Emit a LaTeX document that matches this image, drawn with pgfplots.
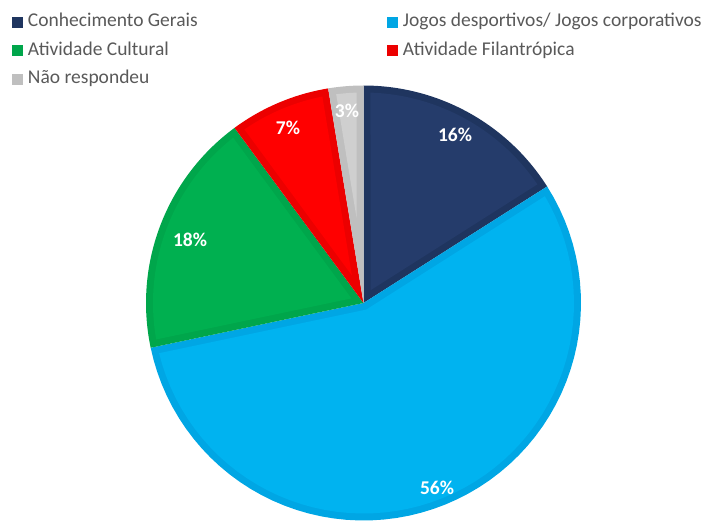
\documentclass[border=0pt]{standalone}
\usepackage{pgfplots}
\pgfplotsset{compat=1.18}
\usepackage{fontspec}
\setmainfont{Carlito}
\definecolor{navyO}{HTML}{1F355F}
\definecolor{navyI}{HTML}{253C6B}
\definecolor{blueO}{HTML}{00A6E4}
\definecolor{blueI}{HTML}{00B3F0}
\definecolor{greenO}{HTML}{00A64B}
\definecolor{greenI}{HTML}{00B050}
\definecolor{redO}{HTML}{EC0000}
\definecolor{redI}{HTML}{FF0000}
\definecolor{grayO}{HTML}{BFBFBF}
\definecolor{grayI}{HTML}{CFCFCF}
\definecolor{legtext}{HTML}{595959}
\newcommand\pieslice[5]{%
 \addplot[fill=#3, draw=none, samples at={0,...,61}]
   ({ifthenelse(x<60.5, \R*cos(#1+(#2-#1)*x/60), 0)},
    {ifthenelse(x<60.5, \R*sin(#1+(#2-#1)*x/60), 0)});
 \addlegendentry{#5}
 \pgfmathsetmacro\sh{(#1-#2)/2}
 \pgfmathsetmacro\sm{(#1+#2)/2}
 \pgfmathsetmacro\ss{\D/sin(\sh)}
 \pgfmathsetmacro\svx{\ss*cos(\sm)}
 \pgfmathsetmacro\svy{\ss*sin(\sm)}
 \pgfmathsetmacro\sRi{\R-\D}
 \pgfmathsetmacro\sdl{asin(\D/\sRi)}
 \pgfmathsetmacro\sbA{#1-\sdl}
 \pgfmathsetmacro\sbB{#2+\sdl}
 \addplot[fill=#4, draw=none, forget plot, samples at={0,...,61}]
   ({ifthenelse(x<60.5, \sRi*cos(\sbA+(\sbB-\sbA)*x/60), \svx)},
    {ifthenelse(x<60.5, \sRi*sin(\sbA+(\sbB-\sbA)*x/60), \svy)});
}
\begin{document}
\begin{tikzpicture}
% shares (percent)
\pgfmathsetmacro\vA{16.0}
\pgfmathsetmacro\vB{55.7}
\pgfmathsetmacro\vC{18.2}
\pgfmathsetmacro\vD{7.5}
\pgfmathsetmacro\vE{2.6}
\pgfmathsetmacro\R{217.5}
\pgfmathsetmacro\D{7}
\pgfmathsetmacro\aA{90}
\pgfmathsetmacro\aB{\aA-3.6*\vA}
\pgfmathsetmacro\aC{\aB-3.6*\vB}
\pgfmathsetmacro\aD{\aC-3.6*\vC}
\pgfmathsetmacro\aE{\aD-3.6*\vD}
\pgfmathsetmacro\aF{\aE-3.6*\vE}
\begin{axis}[
  width=707pt, height=523pt, scale only axis,
  xmin=-363.5, xmax=343.5, ymin=-220, ymax=303,
  hide axis, clip=false,
  legend columns=2,
  legend image code/.code={\fill[#1] (0pt,-5.5pt) rectangle (11pt,5.5pt); \path (16pt,0pt);},
  legend style={at={(axis description cs:0,1)}, anchor=north west,
    xshift=12pt, yshift=-15pt, draw=none, fill=none, inner sep=0pt, outer sep=0pt,
    text=legtext, font=\fontsize{19.5}{23}\selectfont,
    cells={anchor=west},
    nodes={inner sep=0pt, outer sep=0pt, text height=12pt, text depth=3pt},
    row sep=13.5pt},
]
\path (rel axis cs:0,0) rectangle (rel axis cs:1,1);
\pieslice{\aA}{\aB}{navyO}{navyI}{\makebox[359pt][l]{Conhecimento Gerais}}
\pieslice{\aB}{\aC}{blueO}{blueI}{Jogos desportivos/ Jogos corporativos}
\pieslice{\aC}{\aD}{greenO}{greenI}{\makebox[359pt][l]{Atividade Cultural}}
\pieslice{\aD}{\aE}{redO}{redI}{Atividade Filantrópica}
\pieslice{\aE}{\aF}{grayO}{grayI}{\makebox[359pt][l]{Não respondeu}}
\begin{scope}[every node/.style={text=white, font=\fontsize{19.5}{23}\selectfont\bfseries}]
\node at (axis cs:91.5,168) {16\%};
\node at (axis cs:73.5,-185) {56\%};
\node at (axis cs:-173.5,63) {18\%};
\node at (axis cs:-75.5,175) {7\%};
\node at (axis cs:-16.5,192) {3\%};
\end{scope}
\end{axis}
\end{tikzpicture}
\end{document}
